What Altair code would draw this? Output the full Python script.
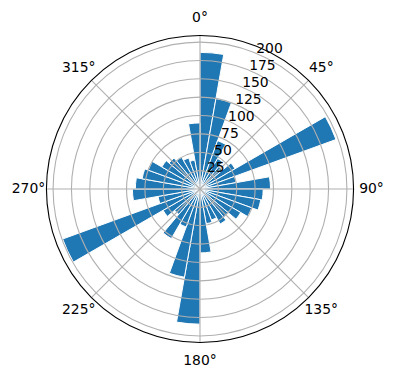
import math
import altair as alt
import pandas as pd

# Wind-rose style polar bar data: bin start angle (deg, clockwise from north) and count
angles = list(range(0, 360, 10))
counts = [186, 125, 70, 48, 40, 55, 197, 50, 96, 86, 84, 75,
          64, 50, 55, 45, 48, 87, 184, 122, 55, 78, 45, 58,
          199, 58, 92, 88, 80, 75, 60, 55, 50, 45, 40, 90]
ring_values = [25, 50, 75, 100, 125, 150, 175, 200]
theta_ticks = [0, 45, 90, 135, 180, 225, 270, 315]
theta_labels = ["0°", "45°", "90°", "135°", "180°", "225°", "270°", "315°"]

RMAX = max(counts) * 1.05
CX, CY, R = 200, 189, 153.5
FONT = "DejaVu Sans"

bars_df = pd.DataFrame({"start": angles, "end": [a + 10 for a in angles], "count": counts})
rings_df = pd.DataFrame({"r": ring_values, "label": [str(v) for v in ring_values],
                         "t0": [0] * len(ring_values), "t1": [360] * len(ring_values)})
spine_df = pd.DataFrame({"r": [RMAX], "t0": [0], "t1": [360]})
spokes_df = pd.DataFrame({"a": theta_ticks, "label": theta_labels})

rscale = alt.Scale(type="linear", domain=[0, RMAX], range=[0, R])
tscale = alt.Scale(domain=[0, 360], range=[0, 2 * math.pi])

bars = alt.Chart(bars_df).mark_arc(color="#1f77b4", stroke="white", strokeWidth=1).encode(
    x=alt.value(CX), y=alt.value(CY),
    theta=alt.Theta("start:Q", scale=tscale),
    theta2="end:Q",
    radius=alt.Radius("count:Q", scale=rscale),
)

rings = alt.Chart(rings_df).mark_arc(filled=False, stroke="#b0b0b0", strokeWidth=1.1).encode(
    x=alt.value(CX), y=alt.value(CY),
    theta=alt.Theta("t0:Q", scale=tscale), theta2="t1:Q",
    radius=alt.Radius("r:Q", scale=rscale),
)

spokes = alt.Chart(spokes_df).transform_calculate(
    x1=f"{CX}", y1=f"{CY}",
    x2=f"{CX} + {R} * sin(datum.a * PI / 180)",
    y2=f"{CY} - {R} * cos(datum.a * PI / 180)",
).mark_rule(stroke="#b0b0b0", strokeWidth=1.1).encode(
    x=alt.X("x1:Q", scale=None), y=alt.Y("y1:Q", scale=None),
    x2="x2:Q", y2="y2:Q",
)

spine = alt.Chart(spine_df).mark_arc(filled=False, stroke="black", strokeWidth=1.1).encode(
    x=alt.value(CX), y=alt.value(CY),
    theta=alt.Theta("t0:Q", scale=tscale), theta2="t1:Q",
    radius=alt.Radius("r:Q", scale=rscale),
)

theta_text = alt.Chart(spokes_df).mark_text(font=FONT, fontSize=13.9, align="center", baseline="middle", color="black").encode(
    x=alt.value(CX), y=alt.value(CY),
    theta=alt.Theta("a:Q", scale=tscale),
    radius=alt.value(171.5),
    text="label:N",
)

r_text = alt.Chart(rings_df).mark_text(font=FONT, fontSize=13.9, align="left", baseline="alphabetic", color="black").encode(
    x=alt.value(CX), y=alt.value(CY),
    theta=alt.value(22.5 * math.pi / 180),
    radius=alt.Radius("r:Q", scale=rscale),
    text="label:N",
)

chart = alt.layer(bars, rings, spokes, spine, theta_text, r_text).properties(
    width=396, height=380, autosize=alt.AutoSizeParams(type="none"), padding=0,
).configure_view(stroke=None)

chart.save("out.html", embed_options={"renderer": "svg", "actions": False})
